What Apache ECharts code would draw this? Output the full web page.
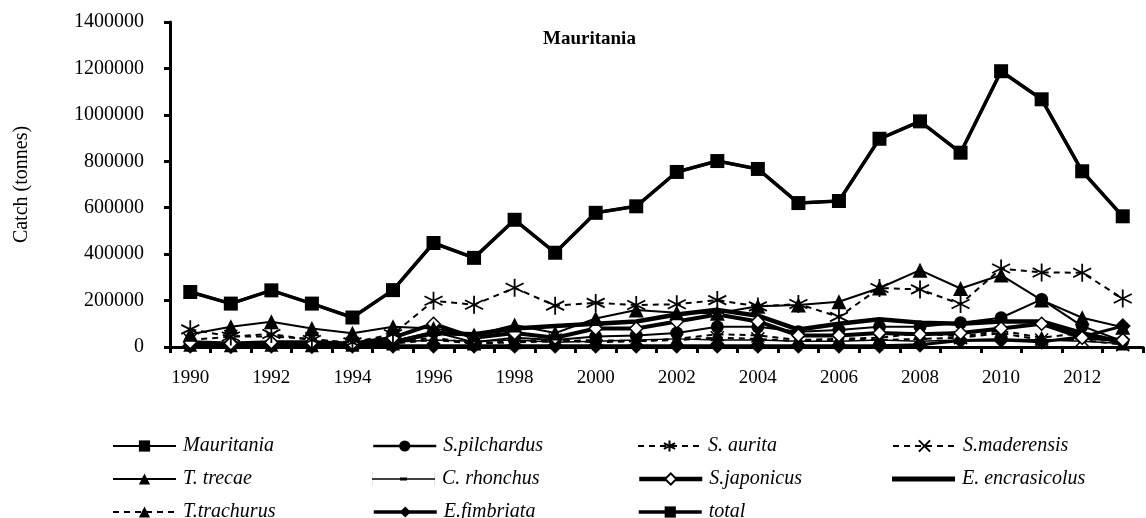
<!DOCTYPE html>
<html>
<head>
<meta charset="utf-8">
<script src="https://cdn.jsdelivr.net/npm/echarts/dist/echarts.min.js"></script>
<style>
html,body{margin:0;padding:0;background:#fff;}
#main{width:1146px;height:518px;}
</style>
</head>
<body>
<div id="main"></div>
<script>
// 毛里塔尼亚 渔获量 (tonnes)
var years = ['1990','1991','1992','1993','1994','1995','1996','1997','1998','1999','2000','2001',
             '2002','2003','2004','2005','2006','2007','2008','2009','2010','2011','2012','2013'];
var yTicks = [0,200000,400000,600000,800000,1000000,1200000,1400000];

var mauritania = [237000,187000,244000,187000,127000,245000,448000,384000,548000,406000,578000,606000,
                  754000,801000,767000,620000,629000,897000,972000,837000,1188000,1067000,757000,563000];
var sPilchardus = [15000,10000,12000,10000,8000,25000,66000,20000,40000,30000,45000,50000,
                   60000,87000,87000,66000,73000,87000,87000,104000,126000,205000,90000,25000];
var sAurita = [76000,45000,56000,30000,20000,55000,199000,182000,255000,178000,190000,181000,
               184000,202000,175000,185000,130000,254000,248000,185000,338000,321000,320000,209000];
var sMaderensis = [30000,45000,45000,35000,15000,20000,40000,15000,25000,30000,20000,25000,
                   30000,40000,35000,25000,30000,30000,35000,40000,60000,30000,30000,10000];
var tTrecae = [55000,87000,109000,80000,59000,87000,80000,52000,95000,60000,123000,159000,
               148000,145000,176000,181000,195000,254000,331000,252000,310000,202000,126000,85000];
var cRhonchus = [20000,15000,20000,15000,12000,20000,30000,25000,30000,20000,25000,30000,
                 35000,30000,30000,25000,25000,30000,25000,30000,35000,30000,25000,15000];
var sJaponicus = [20000,15000,20000,20000,15000,40000,100000,40000,60000,40000,80000,80000,
                  110000,140000,110000,50000,50000,60000,55000,60000,80000,100000,40000,30000];
var eEncrasicolus = [5000,3000,5000,8000,5000,20000,60000,55000,80000,90000,100000,110000,
                     140000,160000,135000,75000,100000,120000,105000,100000,110000,110000,60000,20000];
var tTrachurus = [10000,8000,10000,8000,10000,15000,30000,15000,20000,25000,30000,25000,
                  35000,55000,50000,30000,35000,40000,60000,45000,70000,40000,60000,15000];
var eFimbriata = [5000,3000,5000,3000,5000,5000,5000,5000,5000,5000,5000,5000,
                  5000,5000,5000,5000,5000,5000,10000,28000,30000,23000,44000,90000];
var total = [237000,187000,244000,187000,127000,245000,448000,384000,548000,406000,578000,606000,
             754000,801000,767000,620000,629000,897000,972000,837000,1188000,1067000,757000,563000];

var FONT = 'Liberation Serif';
var asterisk = 'path://M0,-10L0,10M-8.7,-5L8.7,5M-8.7,5L8.7,-5';
var cross = 'path://M-7,-7L7,7M-7,7L7,-7';
var dash = 'path://M-4,-1L4,-1L4,1L-4,1Z';
// legend icons for series without a visible marker (63 x 14 box)
var iconThick = 'path://M0,4.5L63,4.5L63,9.5L0,9.5Z';
var iconThin = 'path://M0,0L0.1,0L0.1,14L0,14Z M0,6.2L63,6.2L63,7.8L0,7.8Z M28,5.5L35,5.5L35,8.5L28,8.5Z M62.9,0L63,0L63,14L62.9,14Z';

function mkSeries(name,data,opt){
    var s = {
        type:'line',
        name:name,
        data:data,
        symbol:opt.symbol || 'none',
        symbolSize:opt.size || 10,
        showSymbol:true,
        z:opt.z || 2,
        lineStyle:{color:'#000',width:opt.width || 2,type:opt.dash ? [6,5] : 'solid'},
        itemStyle:{color:opt.fill || '#000',borderColor:'#000',borderWidth:opt.border || 0},
        emphasis:{disabled:true},
        animation:false
    };
    return s;
}

var series = [
    mkSeries('total',total,{symbol:'rect',size:8,width:3,z:1}),
    mkSeries('E.fimbriata',eFimbriata,{symbol:'diamond',size:16,width:3,z:3}),
    mkSeries('T.trachurus',tTrachurus,{symbol:'triangle',size:14,width:2,dash:true,z:3}),
    mkSeries('C. rhonchus',cRhonchus,{symbol:dash,size:[8,3],width:1.5,z:3}),
    mkSeries('S.maderensis',sMaderensis,{symbol:cross,size:13,width:2,dash:true,border:1.5,z:3}),
    mkSeries('S.pilchardus',sPilchardus,{symbol:'circle',size:13,width:2,z:4}),
    mkSeries('S.japonicus',sJaponicus,{symbol:'diamond',size:13,width:4,fill:'#fff',border:1.5,z:4}),
    mkSeries('E. encrasicolus',eEncrasicolus,{symbol:'none',width:4.5,z:4}),
    mkSeries('T. trecae',tTrecae,{symbol:'triangle',size:15,width:2,z:5}),
    mkSeries('S. aurita',sAurita,{symbol:asterisk,size:18,width:2,dash:true,border:1.8,z:5}),
    mkSeries('Mauritania',mauritania,{symbol:'rect',size:14,width:3.5,z:6})
];

// legend layout: 4 columns x 3 rows
var legendNames = ['Mauritania','S.pilchardus','S. aurita','S.maderensis',
                   'T. trecae','C. rhonchus','S.japonicus','E. encrasicolus',
                   'T.trachurus','E.fimbriata','total'];
var legendWidths = [2,2.5,2,2,2,2,4.5,5,2,3.5,3.5];
var legendIcons = {'E. encrasicolus':iconThick,'C. rhonchus':iconThin};
var colX = [107,367,632,887];
var rowY = [431,464,497];
var legends = [];
for(var i = 0;i<legendNames.length;i++){
    var item = {name:legendNames[i]};
    if(legendIcons[legendNames[i]]){
        item.icon = legendIcons[legendNames[i]];
    }
    legends.push({
        data:[item],
        left:colX[i%4],
        top:rowY[Math.floor(i/4)],
        itemWidth:63,
        itemHeight:14,
        itemGap:0,
        selectedMode:false,
        lineStyle:{width:legendWidths[i]},
        textStyle:{fontFamily:FONT,fontStyle:'italic',fontSize:20,color:'#000',padding:[0,0,0,2]}
    });
}

var option = {
    animation:false,
    backgroundColor:'#fff',
    title:{
        text:'Mauritania',
        left:538,
        top:25,
        textStyle:{fontFamily:FONT,fontWeight:'bold',fontSize:19,color:'#000'}
    },
    legend:legends,
    grid:{left:170,right:3,top:22,bottom:171,containLabel:false},
    xAxis:{
        type:'category',
        data:years,
        boundaryGap:true,
        axisLine:{lineStyle:{color:'#000',width:3}},
        axisTick:{show:true,inside:false,length:6,lineStyle:{color:'#000',width:3},interval:0},
        axisLabel:{interval:1,margin:22,fontFamily:FONT,fontSize:19,color:'#000'},
        splitLine:{show:false}
    },
    yAxis:{
        type:'value',
        min:yTicks[0],
        max:yTicks[yTicks.length-1],
        interval:200000,
        name:'Catch (tonnes)',
        nameLocation:'middle',
        nameGap:138,
        nameRotate:90,
        nameTextStyle:{fontFamily:FONT,fontSize:20,color:'#000'},
        axisLine:{show:true,lineStyle:{color:'#000',width:3}},
        axisTick:{show:true,length:6,lineStyle:{color:'#000',width:3}},
        axisLabel:{
            margin:26,fontFamily:FONT,fontSize:20,color:'#000',
            formatter:function(value){
                return String(value);
            }
        },
        splitLine:{show:false}
    },
    series:series
};

var chart = echarts.init(document.getElementById('main'),null,{renderer:'canvas'});
chart.setOption(option);
</script>
</body>
</html>
